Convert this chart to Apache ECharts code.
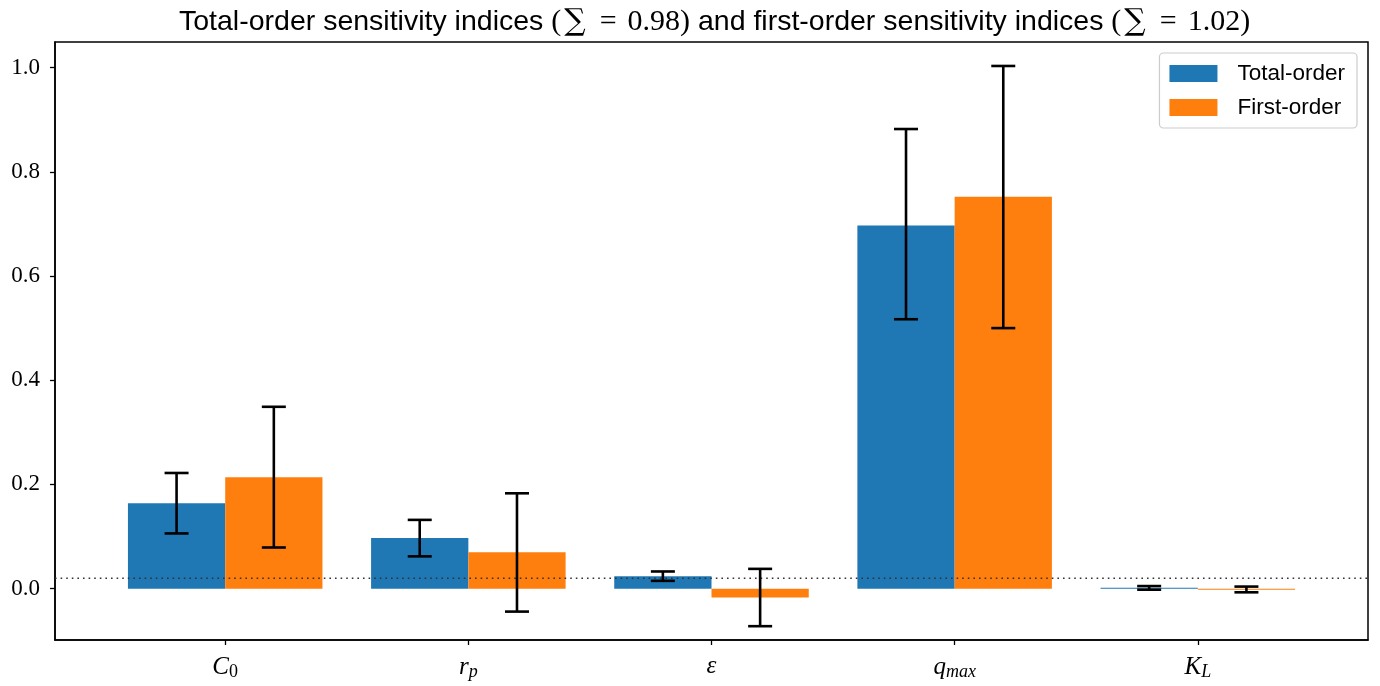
<!DOCTYPE html>
<html>
<head>
<meta charset="utf-8">
<script src="https://cdn.jsdelivr.net/npm/echarts@6/dist/echarts.min.js"></script>
<style>html,body{margin:0;padding:0;background:#fff}#c{width:1380px;height:686px}</style>
</head>
<body>
<div id="c"></div>
<script>
// ---- data ----
const categories = ['C0', 'r_p', 'epsilon', 'q_max', 'K_L'];
const totalOrder = [0.164, 0.097, 0.024, 0.697, 0.002];
const totalLow = [0.106, 0.062, 0.015, 0.517, -0.002];
const totalHigh = [0.222, 0.132, 0.033, 0.882, 0.005];
const firstOrder = [0.214, 0.070, -0.017, 0.752, -0.002];
const firstLow = [0.079, -0.044, -0.072, 0.500, -0.007];
const firstHigh = [0.349, 0.183, 0.038, 1.003, 0.004];
const yTicks = [0, 0.2, 0.4, 0.6, 0.8, 1.0];
const threshold = 0.02;
const totalSum = '0.98', firstSum = '1.02';

const xLabelRich = {
  'C0': '{i|C}{sub|0}',
  'r_p': '{i|r}{isub|p}',
  'epsilon': '{i|ε}',
  'q_max': '{i|q}{isub|max}',
  'K_L': '{i|K}{isub|L}'
};

const BLUE = '#1f77b4', ORANGE = '#ff7f0e';
const idx = categories.map((c, i) => i);

function barRender(offset) {
  return function (params, api) {
    const x = api.value(0), v = api.value(1);
    const a = api.coord([x + offset - 0.2, Math.max(v, 0)]);
    const b = api.coord([x + offset + 0.2, Math.min(v, 0)]);
    return {
      type: 'rect',
      shape: { x: a[0], y: a[1], width: b[0] - a[0], height: Math.max(b[1] - a[1], 1) },
      style: { fill: api.visual('color') }
    };
  };
}
function errRender(offset) {
  return function (params, api) {
    const x = api.value(0) + offset;
    const lo = api.coord([x, api.value(1)]);
    const hi = api.coord([x, api.value(2)]);
    const cap = 12;
    const st = { stroke: '#000', lineWidth: 2.6 };
    return {
      type: 'group',
      children: [
        { type: 'line', shape: { x1: lo[0], y1: lo[1], x2: hi[0], y2: hi[1] }, style: st },
        { type: 'line', shape: { x1: lo[0] - cap, y1: lo[1], x2: lo[0] + cap, y2: lo[1] }, style: st },
        { type: 'line', shape: { x1: hi[0] - cap, y1: hi[1], x2: hi[0] + cap, y2: hi[1] }, style: st }
      ]
    };
  };
}

const mathSum = s => '{m|(}{sum|∑}{eq|=}{m|' + s + ')}';

const chart = echarts.init(document.getElementById('c'), null, { renderer: 'canvas' });
chart.setOption({
  animation: false,
  backgroundColor: '#fff',
  title: {
    text: '{s|Total-order sensitivity indices }' + mathSum(totalSum) +
          '{s| and first-order sensitivity indices }' + mathSum(firstSum),
    left: 174, top: 2,
    textStyle: {
      fontWeight: 'normal',
      rich: {
        s: { fontFamily: 'Liberation Sans', fontSize: 28.5, fontWeight: 'normal', color: '#000' },
        m: { fontFamily: 'Liberation Serif', fontSize: 30, fontWeight: 'normal', color: '#000' },
        sum: { fontFamily: 'DejaVu Serif', fontSize: 30, fontWeight: 'normal', color: '#000', padding: [0, 3, 0, 3] },
        eq: { fontFamily: 'Liberation Serif', fontSize: 30, fontWeight: 'normal', color: '#000', padding: [0, 11, 0, 11] }
      }
    }
  },
  legend: {
    orient: 'vertical', right: 23, top: 53,
    itemWidth: 48, itemHeight: 17, itemGap: 11,
    padding: [9, 12, 9, 10],
    borderColor: '#cccccc', borderWidth: 1.2, borderRadius: 4,
    backgroundColor: 'rgba(255,255,255,0.8)',
    textStyle: { fontFamily: 'Liberation Sans', fontSize: 22.5, color: '#000', padding: [0, 0, 0, 15] },
    data: [
      { name: 'Total-order', icon: 'rect', itemStyle: { color: BLUE } },
      { name: 'First-order', icon: 'rect', itemStyle: { color: ORANGE } }
    ]
  },
  grid: {
    left: 55, right: 12, top: 42, bottom: 46,
    show: true, borderColor: '#000', borderWidth: 1.5, backgroundColor: 'transparent'
  },
  xAxis: {
    type: 'value', min: -0.7, max: 4.7,
    axisLine: { show: true, onZero: false, lineStyle: { color: '#000', width: 1.5 } },
    splitLine: { show: false },
    axisTick: { show: true, customValues: idx, length: 5, lineStyle: { color: '#000', width: 1.3 } },
    axisLabel: {
      customValues: idx, margin: 14,
      formatter: v => xLabelRich[categories[Math.round(v)]],
      rich: {
        i: { fontFamily: 'Liberation Serif', fontStyle: 'italic', fontSize: 25, color: '#000' },
        sub: { fontFamily: 'Liberation Serif', fontSize: 18, color: '#000', verticalAlign: 'bottom', padding: [9, 0, 0, 0] },
        isub: { fontFamily: 'Liberation Serif', fontStyle: 'italic', fontSize: 18, color: '#000', verticalAlign: 'bottom', padding: [9, 0, 0, 0] }
      }
    }
  },
  yAxis: {
    type: 'value', min: -0.0985, max: 1.049,
    axisLine: { show: true, onZero: false, lineStyle: { color: '#000', width: 1.5 } },
    splitLine: { show: false },
    axisTick: { show: true, customValues: yTicks, length: 5, lineStyle: { color: '#000', width: 1.3 } },
    axisLabel: {
      customValues: yTicks, margin: 15,
      formatter: v => v.toFixed(1),
      fontFamily: 'Liberation Serif', fontSize: 23, color: '#000'
    }
  },
  series: [
    {
      name: 'Total-order', type: 'custom', renderItem: barRender(-0.2),
      itemStyle: { color: BLUE }, z: 2,
      data: idx.map(i => [i, totalOrder[i]])
    },
    {
      name: 'First-order', type: 'custom', renderItem: barRender(0.2),
      itemStyle: { color: ORANGE }, z: 2,
      data: idx.map(i => [i, firstOrder[i]])
    },
    {
      name: 'thr', type: 'line', symbol: 'none', z: 3,
      lineStyle: { color: '#333', width: 1.6, type: [1.6, 4] },
      data: [[-0.7, threshold], [4.7, threshold]]
    },
    {
      name: 'errTotal', type: 'custom', renderItem: errRender(-0.2), z: 4,
      data: idx.map(i => [i, totalLow[i], totalHigh[i]])
    },
    {
      name: 'errFirst', type: 'custom', renderItem: errRender(0.2), z: 4,
      data: idx.map(i => [i, firstLow[i], firstHigh[i]])
    }
  ]
});
</script>
</body>
</html>
